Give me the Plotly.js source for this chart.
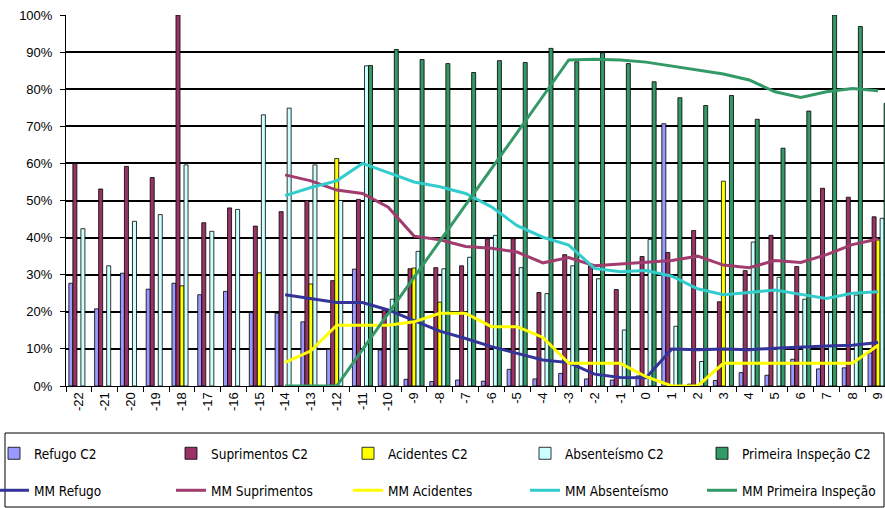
<!DOCTYPE html>
<html>
<head>
<meta charset="utf-8">
<script src="https://cdn.plot.ly/plotly-3.0.1.min.js"></script>
<style>
html,body{margin:0;padding:0;overflow:hidden;background:#fff;}
#chart{width:900px;height:508px;}
</style>
</head>
<body>
<div id="chart"></div>
<script>
const categories = ["-22","-21","-20","-19","-18","-17","-16","-15","-14","-13","-12","-11","-10","-9","-8","-7","-6","-5","-4","-3","-2","-1","0","1","2","3","4","5","6","7","8","9"];

const refugo = [27.7,20.8,30.4,26.1,27.7,24.6,25.5,19.8, 19.6,17.3,9.9,31.5,9.7,1.8,1.2,1.6, 1.3,4.5,1.9,3.4,1.9,1.6,2.7,70.7, 0.5,1.5,3.6,2.9,7.2,4.6,4.9,8.9];
const suprimentos = [60,53.1,59.2,56.2,100,44,48,43.1, 47,50,28.4,50.3,20.5,31.6,31.9,32.4, 39.7,39.7,25.2,35.4,32.4,26,34.9,36, 41.9,22.7,31.1,40.6,32.2,53.3,50.9,45.6];
const acidentes = [null,null,null,null,27,null,null,30.5, null,27.5,61.3,null,null,31.8,22.6,null, null,null,null,null,null,null,null,null, null,55.2,null,null,null,null,null,39.4];
const absenteismo = [42.4,32.4,44.4,46.2,59.6,41.7,47.6,73.1, 74.9,59.6,50,86.3,23.4,36.3,31.6,34.7, 40.6,31.9,24.9,32.4,28.9,15.1,39.5,16.1, 6.6,null,38.8,29.3,23.4,19.8,24.5,45.2];
const primeira = [null,null,null,null,null,null,null,null, null,null,null,86.4,90.7,88,86.9,84.5, 87.7,87.2,91,87.4,89.8,86.9,82,77.7, 75.6,78.3,71.9,64.1,74.1,100,96.9,76.2];

const mmRefugo = [null,null,null,null,null,null,null,null, 24.6,23.6,22.5,22.5,20.5,17.6,14.8,12.8, 10.6,8.8,7.0,6.3,3.2,2.3,2.2,10.0, 9.8,10.0,9.8,10.2,10.4,10.8,11.0,11.7];
const mmSuprimentos = [null,null,null,null,null,null,null,null, 56.9,55.3,52.8,51.9,48.2,40.4,39.4,37.6, 37.1,36.1,33.2,34.6,32.4,32.9,33.5,33.8, 35.0,32.6,31.9,33.8,33.3,35.4,38.1,39.6];
const mmAcidentes = [null,null,null,null,null,null,null,null, 6.4,9.5,16.4,16.4,16.4,17.3,19.6,19.6, 16.0,16.0,13.1,6.1,6.1,6.1,2.5,0, 0,6.1,6.1,6.1,6.1,6.1,6.1,11.0];
const mmAbsenteismo = [null,null,null,null,null,null,null,null, 51.3,53.5,55.3,60.0,57.5,55.0,53.7,51.9, 48.3,43.2,40.1,38.0,31.7,30.8,31.1,29.6, 26.2,24.6,25.2,25.9,24.7,23.6,25.0,25.4];
const mmPrimeira = [null,null,null,null,null,null,null,null, 0,0,0,9.8,19.5,29.3,39.0,48.8, 58.6,68.3,78.1,87.9,88.1,87.9,87.3,86.3, 85.2,84.1,82.5,79.3,77.8,79.3,80.2,79.6];

const barNames = ["Refugo C2","Suprimentos C2","Acidentes C2","Absenteísmo C2","Primeira Inspeção C2"];
const lineNames = ["MM Refugo","MM Suprimentos","MM Acidentes","MM Absenteísmo","MM Primeira Inspeção"];

const barColors = ["#9999FF","#993366","#FFFF00","#CCFFFF","#339966"];
const lineColors = ["#333399","#A03C6E","#FFFF00","#33CCCC","#339966"];

const barData = [refugo, suprimentos, acidentes, absenteismo, primeira];
const lineData = [mmRefugo, mmSuprimentos, mmAcidentes, mmAbsenteismo, mmPrimeira];

const traces = [];
barData.forEach((vals, i) => {
  traces.push({
    type: 'bar', x: categories, y: vals, name: barNames[i],
    marker: {color: barColors[i], line: {color: '#000', width: 0.8}},
    legend: 'legend'
  });
});
lineData.forEach((vals, i) => {
  traces.push({
    type: 'scatter', mode: 'lines', x: categories, y: vals, name: lineNames[i],
    line: {color: lineColors[i], width: 3},
    connectgaps: false, legend: 'legend2'
  });
});

const W = 900, H = 508;
const mL = 66, mR = 9, mT = 15, mB = 122;
const pw = W - mL - mR, ph = H - mT - mB;
const px2x = p => (p - mL) / pw;
const px2y = p => (H - mB - p) / ph;

const narrow = '"DejaVu Sans Condensed", "Liberation Sans Narrow", "Arial Narrow", "Liberation Sans", sans-serif';
const legendCommon = {
  orientation: 'h', xanchor: 'left', yanchor: 'top',
  entrywidth: 132, entrywidthmode: 'pixels',
  bgcolor: 'rgba(0,0,0,0)', borderwidth: 0,
  font: {family: narrow, size: 13.5, color: '#000'},
  traceorder: 'normal', itemclick: false, itemdoubleclick: false
};

const layout = {
  width: W, height: H,
  margin: {l: mL, r: mR, t: mT, b: mB, pad: 0, autoexpand: false},
  paper_bgcolor: '#fff', plot_bgcolor: '#fff',
  barmode: 'group', bargap: 0.22, bargroupgap: 0,
  font: {family: '"Liberation Sans", Arial, sans-serif', size: 13, color: '#000'},
  xaxis: {
    type: 'category', categoryorder: 'array', categoryarray: categories,
    range: [-0.5, 31.5],
    showgrid: false, showline: true, linecolor: '#000', linewidth: 1,
    ticks: 'outside', tickson: 'boundaries', ticklen: 5, tickcolor: '#000', tickwidth: 1,
    tickangle: -90, tickfont: {size: 13, family: '"Liberation Sans", Arial, sans-serif'},
    zeroline: false, fixedrange: true
  },
  yaxis: {
    range: [0, 100], dtick: 10, ticksuffix: '%',
    showgrid: true, gridcolor: '#000', gridwidth: 2,
    showline: true, linecolor: '#000', linewidth: 1,
    ticks: 'outside', ticklen: 5, tickcolor: '#000', tickwidth: 1,
    ticklabelstandoff: 5,
    tickfont: {size: 13, family: '"Liberation Sans", Arial, sans-serif'},
    zeroline: false, fixedrange: true
  },
  legend: Object.assign({}, legendCommon, {x: px2x(-6), y: px2y(438)}),
  legend2: Object.assign({}, legendCommon, {x: px2x(-6), y: px2y(475)}),
  shapes: [{
    type: 'rect', xref: 'paper', yref: 'paper',
    x0: px2x(5), x1: px2x(884), y0: px2y(507), y1: px2y(433),
    line: {color: '#000', width: 1}, fillcolor: 'rgba(0,0,0,0)', layer: 'below'
  }]
};

Plotly.newPlot('chart', traces, layout, {displayModeBar: false, staticPlot: true});
</script>
</body>
</html>
